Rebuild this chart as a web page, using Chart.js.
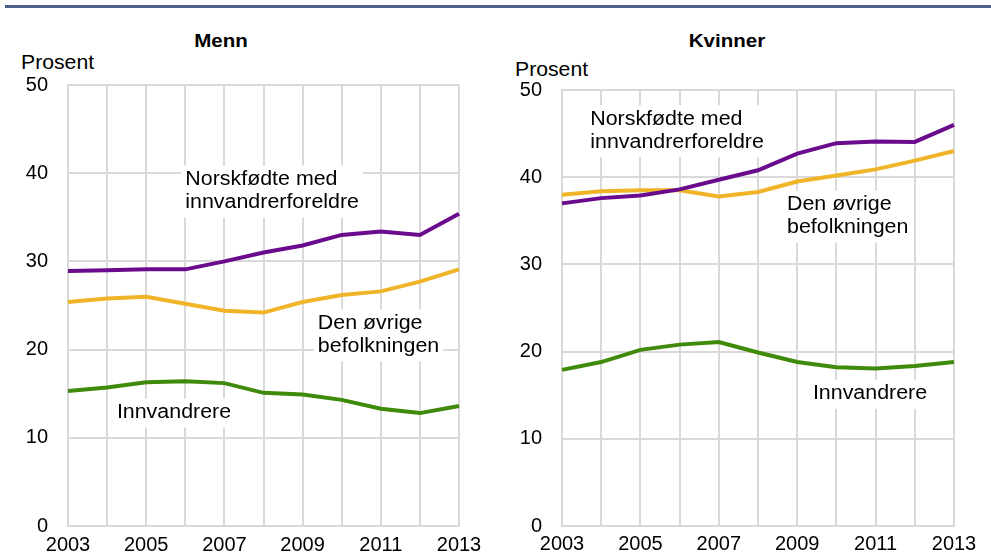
<!DOCTYPE html>
<html>
<head>
<meta charset="utf-8">
<script src="https://cdn.jsdelivr.net/npm/chart.js@4.4.1/dist/chart.umd.min.js"></script>
<style>
  html, body { margin: 0; padding: 0; background: #fff; }
  body { width: 991px; height: 558px; position: relative; overflow: hidden; font-family: "Liberation Sans", Arial, sans-serif; color: #000; }
  .topline { position: absolute; left: 5px; right: 0; top: 5px; height: 3px; background: #4b6089; }
  .title { position: absolute; font-weight: bold; font-size: 19px; top: 30px; transform: translateX(-50%) scaleX(1.08); white-space: nowrap; }
  .unit { position: absolute; font-size: 20px; white-space: nowrap; transform-origin: 0 0; transform: scaleX(1.06); }
  canvas { position: absolute; top: 0; }
</style>
</head>
<body>
<div class="topline"></div>
<div class="title" style="left:221px">Menn</div>
<div class="title" style="left:727px">Kvinner</div>
<div class="unit" style="left:21px; top:51px">Prosent</div>
<div class="unit" style="left:515px; top:58px">Prosent</div>
<canvas id="c1" width="495" height="558" style="left:0"></canvas>
<canvas id="c2" width="496" height="558" style="left:495px"></canvas>
<script>
const years = ['2003','2004','2005','2006','2007','2008','2009','2010','2011','2012','2013'];
const yTicks = [0, 10, 20, 30, 40, 50];

const mennNorskfodte   = [28.9, 29.0, 29.1, 29.1, 30.0, 31.0, 31.8, 33.0, 33.4, 33.0, 35.4];
const mennOvrige       = [25.4, 25.8, 26.0, 25.2, 24.4, 24.2, 25.4, 26.2, 26.6, 27.7, 29.1];
const mennInnvandrere  = [15.3, 15.7, 16.3, 16.4, 16.2, 15.1, 14.9, 14.3, 13.3, 12.8, 13.6];

const kvinnerNorskfodte  = [37.0, 37.6, 37.9, 38.6, 39.7, 40.8, 42.7, 43.9, 44.1, 44.05, 46.0];
const kvinnerOvrige      = [38.0, 38.4, 38.5, 38.5, 37.8, 38.3, 39.5, 40.2, 40.9, 41.9, 43.0];
const kvinnerInnvandrere = [17.9, 18.8, 20.2, 20.8, 21.1, 19.9, 18.8, 18.2, 18.05, 18.35, 18.8];

const seriesNames = ['Norskfødte med innvandrerforeldre', 'Den øvrige befolkningen', 'Innvandrere'];
const colors = ['#6a0a8c', '#f0b429', '#3f8a0b'];

// in-plot labels: [xIndex, yValue(top of text), lines]
const mennLabels = [
  [3.0, 40.4, ['Norskfødte med', 'innvandrerforeldre']],
  [6.39, 24.1, ['Den øvrige', 'befolkningen']],
  [1.25, 14.0, ['Innvandrere']]
];
const kvinnerLabels = [
  [0.72, 47.8, ['Norskfødte med', 'innvandrerforeldre']],
  [5.74, 38.0, ['Den øvrige', 'befolkningen']],
  [6.4, 16.3, ['Innvandrere']]
];

const FONT = '"Liberation Sans", Arial, sans-serif';
const GRID = '#d9d9d9';
const SX = 1.07; // horizontal stretch of in-plot text

function labelPlugin(labels) {
  return {
    id: 'inlineLabels',
    beforeDatasetsDraw(chart) {
      const ctx = chart.ctx;
      const xs = chart.scales.x, ys = chart.scales.y;
      ctx.save();
      ctx.font = '20px ' + FONT;
      ctx.textBaseline = 'top';
      ctx.textAlign = 'left';
      labels.forEach(([xi, yv, lines]) => {
        const x = xs.getPixelForValue(xi);
        const y = ys.getPixelForValue(yv);
        const lh = 23;
        const w = Math.max(...lines.map(l => ctx.measureText(l).width)) * SX;
        ctx.fillStyle = '#fff';
        ctx.fillRect(x - 4, y - 4, w + 8, lh * lines.length + 6);
        ctx.fillStyle = '#000';
        lines.forEach((l, i) => {
          ctx.save();
          ctx.translate(x, y + i * lh);
          ctx.scale(SX, 1);
          ctx.fillText(l, 0, 0);
          ctx.restore();
        });
      });
      ctx.restore();
    }
  };
}

function makeChart(id, data, labels, geom) {
  new Chart(document.getElementById(id), {
    type: 'line',
    data: {
      labels: years,
      datasets: data.map((d, i) => ({
        label: seriesNames[i],
        data: d,
        borderColor: colors[i],
        backgroundColor: colors[i],
        borderWidth: 4,
        pointRadius: 0,
        tension: 0,
        fill: false
      }))
    },
    options: {
      responsive: false,
      animation: false,
      events: [],
      layout: { padding: { top: geom.top, right: geom.right, left: 0, bottom: 0 } },
      plugins: { legend: { display: false }, title: { display: false }, tooltip: { enabled: false } },
      scales: {
        x: {
          type: 'category',
          offset: false,
          grid: { color: GRID, lineWidth: 2, drawTicks: false },
          border: { color: GRID, width: 2 },
          ticks: {
            color: '#000', font: { family: FONT, size: 20 }, padding: geom.xpad, maxRotation: 0, autoSkip: false,
            callback: (v, i) => (i % 2 === 0 ? years[i] : '')
          },
          afterFit: s => { s.height = geom.xh; }
        },
        y: {
          min: 0, max: 50,
          afterBuildTicks: s => { s.ticks = yTicks.map(v => ({ value: v })); },
          grid: { color: GRID, lineWidth: 2, drawTicks: false },
          border: { color: GRID, width: 2 },
          ticks: { color: '#000', font: { family: FONT, size: 20 }, padding: 20 },
          afterFit: s => { s.width = geom.left; }
        }
      }
    },
    plugins: [labelPlugin(labels)]
  });
}

makeChart('c1', [mennNorskfodte, mennOvrige, mennInnvandrere], mennLabels,
  { top: 85, right: 36, left: 68, xh: 32, xpad: 7 });
makeChart('c2', [kvinnerNorskfodte, kvinnerOvrige, kvinnerInnvandrere], kvinnerLabels,
  { top: 90, right: 37, left: 67, xh: 26, xpad: 6 });
</script>
</body>
</html>
